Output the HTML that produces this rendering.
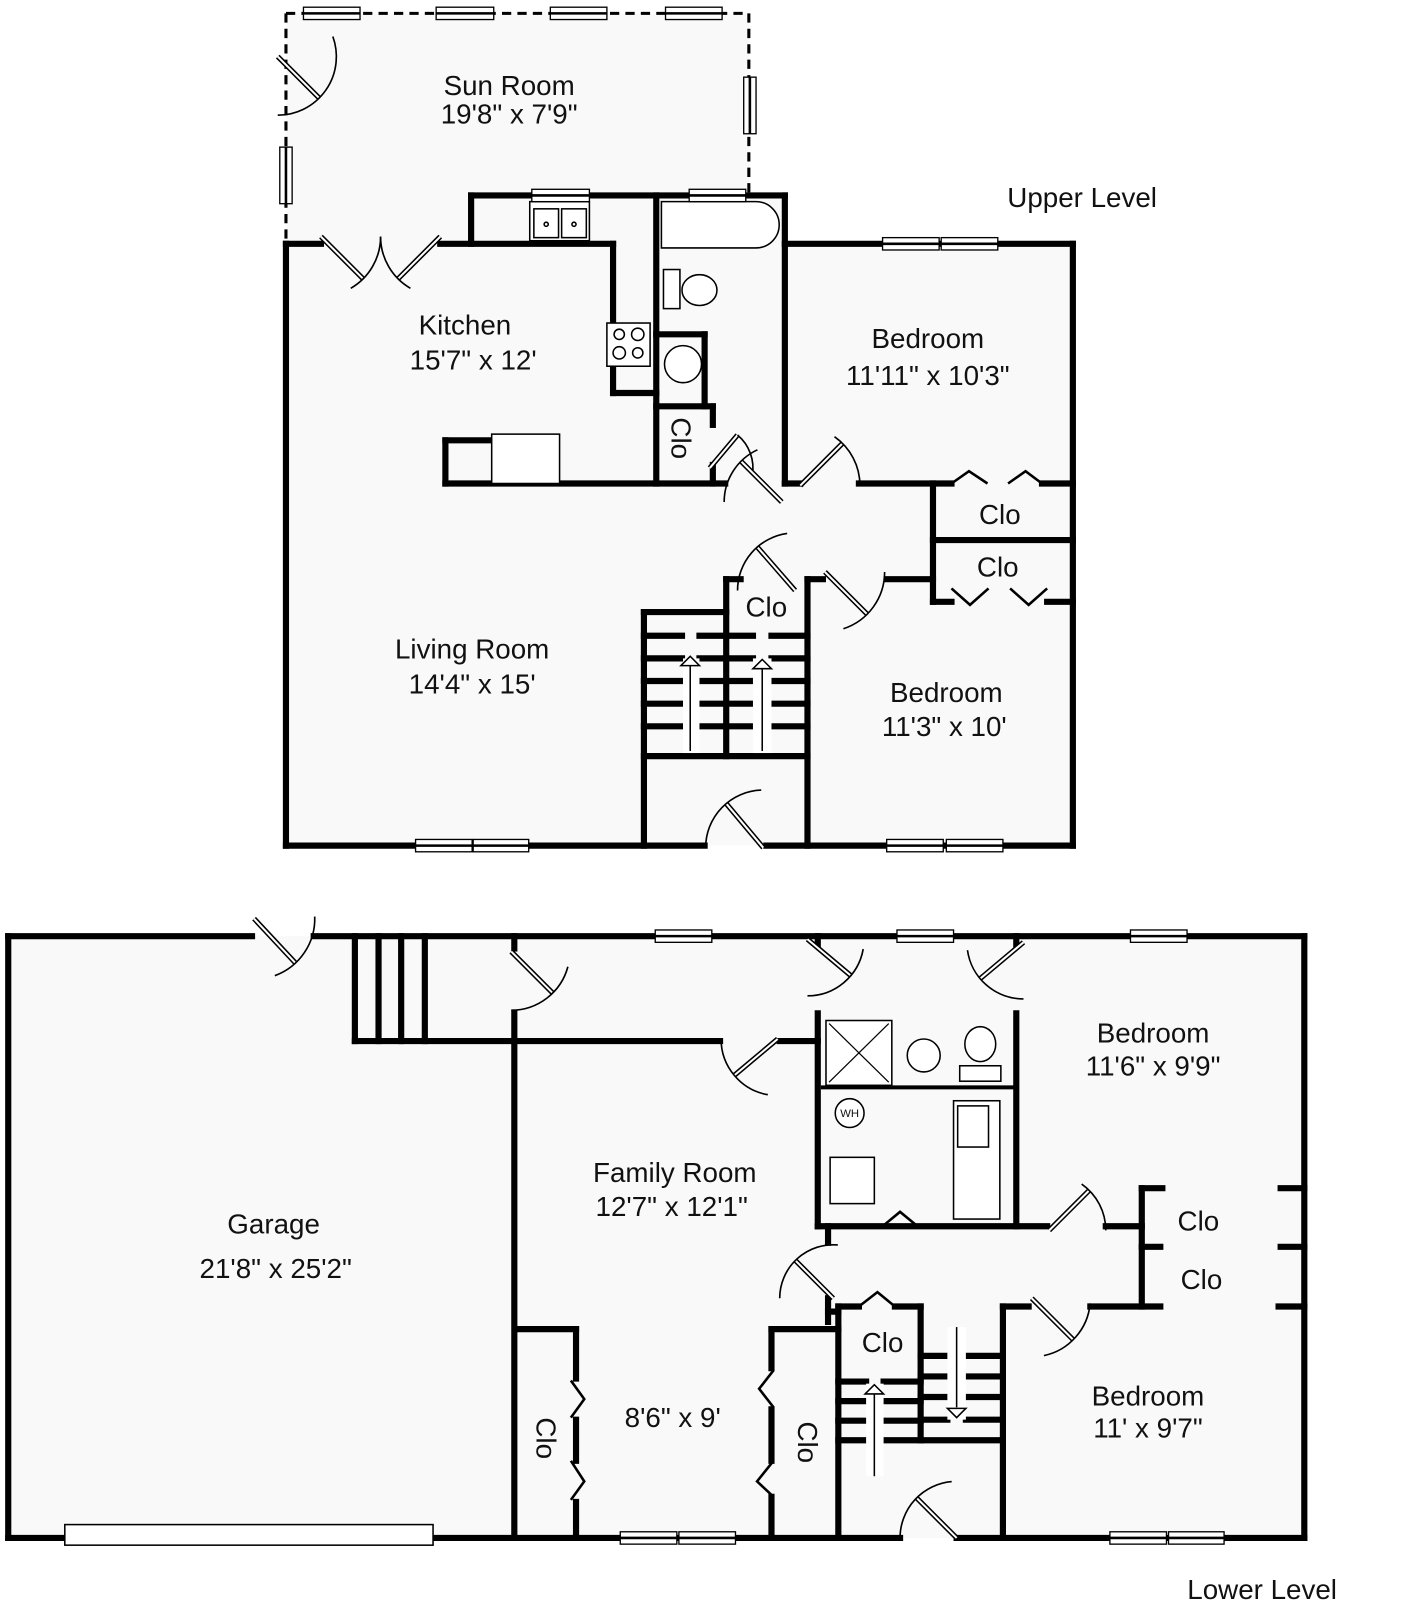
<!DOCTYPE html>
<html><head><meta charset="utf-8"><style>
html,body{margin:0;padding:0;background:#fff;}
svg{display:block;}
text{font-family:"Liberation Sans",Arial,sans-serif;font-size:27px;fill:#111;text-anchor:middle;dominant-baseline:central;}
</style></head><body>
<svg id="s" width="1401" height="1611" viewBox="0 0 1362 1566" preserveAspectRatio="none" xmlns="http://www.w3.org/2000/svg">
<rect x="0" y="0" width="1362" height="1566" fill="#fff"/>
<polygon points="278,13 728,13 728,190 763,190 763,237 1043,237 1043,822 278,822" fill="#f9f9f9"/>
<rect x="8" y="910" width="1260" height="585" fill="#f9f9f9"/>
<path d="M278,13 H728 V190 M278,13 V237" fill="none" stroke="#000" stroke-width="3" stroke-dasharray="9,6"/>
<g id="walls" stroke="#000" stroke-width="6" stroke-linecap="square" fill="none"></g>
<g id="fx" stroke="#000" stroke-width="1.5" fill="#fff">
 <rect x="515" y="196" width="58" height="38"/><rect x="519" y="203" width="24" height="28"/><rect x="546" y="203" width="24" height="28"/>
 <circle cx="531" cy="218" r="2"/><circle cx="558" cy="218" r="2"/>
 <rect x="590" y="314" width="42" height="42"/>
 <circle cx="602" cy="325" r="5"/><circle cx="620" cy="325" r="6"/><circle cx="602" cy="343" r="6"/><circle cx="620" cy="343" r="5"/>
 <path d="M643,196 H735 A22,22 0 0 1 735,241 H643 Z"/>
 <rect x="645" y="262" width="16" height="38"/><ellipse cx="680" cy="282" rx="17" ry="15"/>
 <circle cx="664" cy="354" r="18"/>
 <rect x="478" y="422" width="66" height="48"/>
 <rect x="803" y="992" width="64" height="63"/>
 <path d="M806,995 L864,1052 M864,995 L806,1052" stroke-width="1.2"/>
 <circle cx="898" cy="1026" r="16"/>
 <ellipse cx="953" cy="1015" rx="15" ry="17"/><rect x="933" y="1036" width="40" height="15"/>
 <circle cx="826" cy="1082" r="14"/>
 <rect x="807" y="1125" width="43" height="45"/>
 <rect x="927" y="1070" width="45" height="115"/><rect x="931" y="1075" width="30" height="40"/>
 <rect x="63" y="1482" width="358" height="20"/>
</g>
<g id="win" stroke="#000" stroke-width="1.3" fill="#fff"></g>
<g id="doors" fill="none"></g>
<g stroke="#000" stroke-width="2.5" fill="none">
 <polyline points="925,470 942,458 960,470"/><polyline points="980,470 997,458 1013,470"/>
 <polyline points="925,572 943,588 961,572"/><polyline points="982,572 1000,588 1018,572"/>
 <polyline points="858,1192 875,1178 892,1192"/><polyline points="835,1270 853,1256 870,1270"/>
 <polyline points="555,1342 568,1360 555,1378"/><polyline points="555,1420 568,1440 555,1458"/>
 <polyline points="752,1332 738,1350 752,1368"/><polyline points="752,1420 736,1440 752,1455"/>
</g>
<g stroke="#000" stroke-width="1.5" fill="#fff">
 <rect x="664" y="640" width="16" height="92" stroke="none"/><line x1="671" y1="645" x2="671" y2="730"/><polygon points="662,647 671,638 680,647"/>
 <rect x="732" y="640" width="18" height="92" stroke="none"/><line x1="741" y1="645" x2="741" y2="730"/><polygon points="732,650 741,641 750,650"/>
 <rect x="842" y="1345" width="17" height="90" stroke="none"/><line x1="850" y1="1352" x2="850" y2="1435"/><polygon points="841,1355 850,1346 859,1355"/>
 <rect x="921" y="1290" width="18" height="90" stroke="none"/><line x1="930" y1="1290" x2="930" y2="1368"/><polygon points="921,1369 930,1378 939,1369"/>
</g>
<text x="495" y="83">Sun Room</text><text x="495" y="111">19'8" x 7'9"</text>
<text x="1052" y="192">Upper Level</text>
<text x="452" y="316">Kitchen</text><text x="460" y="350">15'7" x 12'</text>
<text x="902" y="329">Bedroom</text><text x="902" y="365">11'11" x 10'3"</text>
<text x="972" y="500">Clo</text><text x="970" y="551">Clo</text><text x="745" y="590">Clo</text>
<text x="0" y="0" transform="translate(662,426) rotate(90)">Clo</text>
<text x="459" y="631">Living Room</text><text x="459" y="665">14'4" x 15'</text>
<text x="920" y="673">Bedroom</text><text x="918" y="706">11'3" x 10'</text>
<text x="1121" y="1004">Bedroom</text><text x="1121" y="1036">11'6" x 9'9"</text>
<text x="656" y="1140">Family Room</text><text x="653" y="1173">12'7" x 12'1"</text>
<text x="266" y="1190">Garage</text><text x="268" y="1233">21'8" x 25'2"</text>
<text x="1165" y="1187">Clo</text><text x="1168" y="1244">Clo</text><text x="858" y="1305">Clo</text>
<text x="1116" y="1357">Bedroom</text><text x="1116" y="1388">11' x 9'7"</text>
<text x="654" y="1378">8'6" x 9'</text>
<text x="0" y="0" transform="translate(531,1398) rotate(90)">Clo</text>
<text x="0" y="0" transform="translate(785,1402) rotate(90)">Clo</text>
<text x="826" y="1083" style="font-size:11px">WH</text>
<text x="1227" y="1545">Lower Level</text>
<script>
var NS="http://www.w3.org/2000/svg";
function el(p,t,a){var e=document.createElementNS(NS,t);for(var k in a)e.setAttribute(k,a[k]);p.appendChild(e);return e;}
var W=document.getElementById('walls');
var walls=[
[278,237,278,822],[278,237,312,237],[428,237,596,237],[458,190,458,237],[458,190,763,190],
[596,237,596,382],[596,382,638,382],[638,190,638,470],[638,325,685,325],[685,325,685,395],[638,395,693,395],
[693,395,693,413],[693,452,693,470],[433,470,705,470],[433,428,475,428],[433,428,433,470],
[763,190,763,470],[763,237,1043,237],[1043,237,1043,822],[835,470,925,470],[1013,470,1043,470],[763,470,778,470],
[907,470,907,585],[907,525,1043,525],[907,585,925,585],[1018,585,1043,585],
[862,563,907,563],[785,563,800,563],[785,563,785,822],[706,563,720,563],[706,563,706,735],
[626,595,706,595],[626,595,626,822],[626,735,785,735],[278,822,685,822],[745,822,1043,822],
[8,910,245,910],[305,910,1268,910],[8,910,8,1495],[8,1495,875,1495],[930,1495,1268,1495],[1268,910,1268,1495],
[500,910,500,922],[500,985,500,1495],[345,910,345,1012],[345,1012,700,1012],[758,1012,795,1012],
[795,910,795,918],[795,985,795,1192],[988,910,988,918],[988,985,988,1192],
[795,1192,1018,1192],[1075,1192,1110,1192],[805,1192,805,1208],
[1110,1155,1110,1270],[1110,1155,1130,1155],[1110,1212,1128,1212],[1245,1155,1268,1155],[1245,1212,1268,1212],
[1060,1270,1128,1270],[1243,1270,1268,1270],[975,1270,1000,1270],[975,1270,975,1495],
[805,1262,805,1285],[805,1275,815,1275],[815,1270,815,1495],[815,1270,835,1270],[870,1270,895,1270],[895,1270,895,1400],[815,1400,975,1400],
[505,1292,560,1292],[560,1292,560,1340],[560,1380,560,1420],[560,1460,560,1495],
[750,1292,815,1292],[750,1292,750,1330],[750,1370,750,1420],[750,1455,750,1495]
];
walls.forEach(function(w){el(W,'line',{x1:w[0],y1:w[1],x2:w[2],y2:w[3]});});
[[368,910,368,1012],[390,910,390,1012],[413,910,413,1012]].forEach(function(w){el(W,'line',{x1:w[0],y1:w[1],x2:w[2],y2:w[3]});});
[618,640,662,684,706].forEach(function(y){
 el(W,'line',{x1:626,y1:y,x2:663,y2:y});el(W,'line',{x1:680,y1:y,x2:732,y2:y});el(W,'line',{x1:750,y1:y,x2:785,y2:y});});
[1343,1362,1381].forEach(function(y){el(W,'line',{x1:815,y1:y,x2:842,y2:y});el(W,'line',{x1:859,y1:y,x2:895,y2:y});});
[1318,1338,1358,1380].forEach(function(y){el(W,'line',{x1:895,y1:y,x2:921,y2:y});el(W,'line',{x1:939,y1:y,x2:975,y2:y});});
el(W,'line',{x1:800,y1:1057,x2:985,y2:1057,'stroke-width':4});
var G=document.getElementById('win');
function winH(x1,x2,y){el(G,'rect',{x:x1,y:y-6,width:x2-x1,height:12});el(G,'line',{x1:x1,y1:y,x2:x2,y2:y,'stroke-width':2.5});}
function winV(x,y1,y2){el(G,'rect',{x:x-6,y:y1,width:12,height:y2-y1});el(G,'line',{x1:x,y1:y1,x2:x,y2:y2,'stroke-width':2.5});}
[[295,350],[424,480],[535,590],[647,702]].forEach(function(a){winH(a[0],a[1],13);});
winV(729,75,130);winV(278,143,198);winH(517,573,190);winH(670,725,190);
winH(858,913,237);winH(915,970,237);winH(404,459,822);winH(460,514,822);winH(862,917,822);winH(920,975,822);
winH(637,692,910);winH(872,927,910);winH(1099,1154,910);
winH(603,658,1495);winH(660,715,1495);winH(1079,1134,1495);winH(1136,1190,1495);
var D=document.getElementById('doors');
function door(px,py,r,la,a1,a2){
 var rad=Math.PI/180;
 var lx=px+r*Math.cos(la*rad),ly=py+r*Math.sin(la*rad);
 el(D,'line',{x1:px,y1:py,x2:lx,y2:ly,stroke:'#000','stroke-width':5});
 el(D,'line',{x1:px,y1:py,x2:lx,y2:ly,stroke:'#fff','stroke-width':2});
 var x1=px+r*Math.cos(a1*rad),y1=py+r*Math.sin(a1*rad),x2=px+r*Math.cos(a2*rad),y2=py+r*Math.sin(a2*rad);
 el(D,'path',{d:'M'+x1+','+y1+' A'+r+','+r+' 0 0 1 '+x2+','+y2,stroke:'#000','stroke-width':1.6});
}
door(270,55,57,45,-20,90);
door(312,230,58,45,0,60);door(428,230,58,135,120,180);
door(690,455,42,-50,-50,10);
door(760,488,56,225,180,245);
door(778,472,58,-45,-55,0);
door(773,574,56,229,180,262);
door(802,556,58,45,0,72);
door(742,824,56,230,180,268);
door(247,893,59,47,-2,70);
door(497,925,57,45,15,90);
door(785,913,55,40,10,90);
door(995,916,55,140,90,172);
door(756,1010,55,140,100,180);
door(1020,1196,55,-45,-55,0);
door(810,1262,52,225,180,275);
door(1003,1262,57,45,5,78);
door(930,1495,55,225,180,265);
</script>
</svg>
</body></html>
